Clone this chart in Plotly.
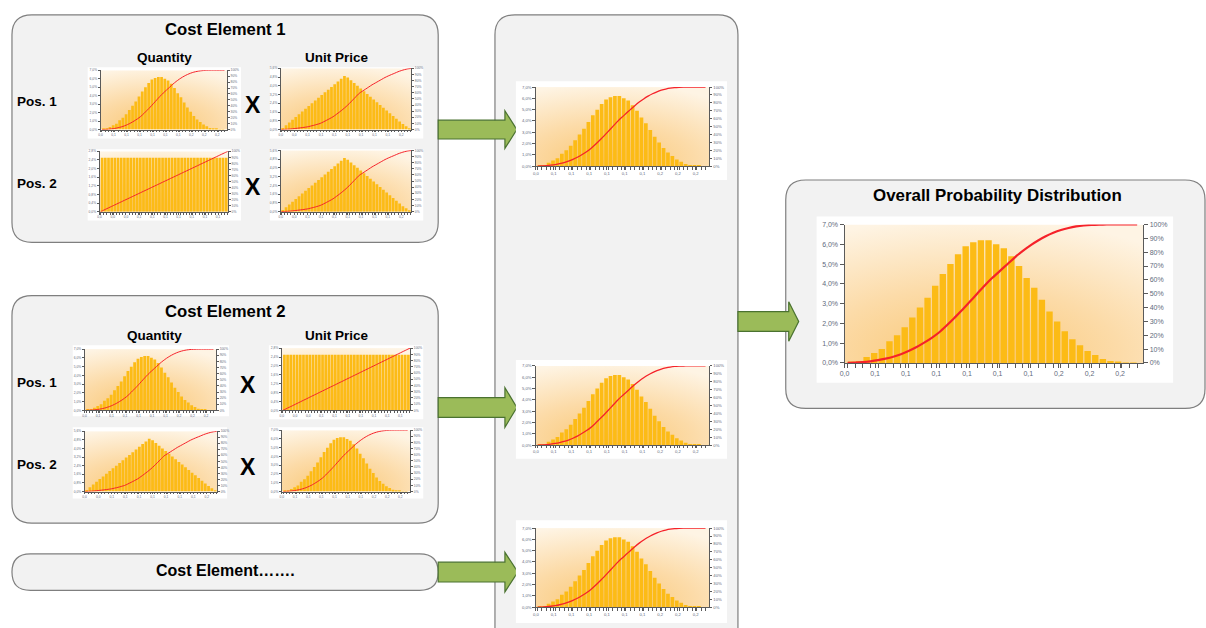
import base64
import plotly.graph_objects as go

W, H = 1206, 628
FONT = "Liberation Sans, Arial, sans-serif"

# ---------------- data ----------------
# bell-shaped distribution (share of outcomes per bin, %)
normal_pct = [0.05, 0.1, 0.3, 0.5, 0.7, 1.1, 1.4, 1.8, 2.3, 2.8, 3.3, 3.9, 4.5, 5.0, 5.5, 5.9,
              6.1, 6.2, 6.2, 6.0, 5.8, 5.4, 4.9, 4.3, 3.8, 3.2, 2.6, 2.1, 1.6, 1.2, 0.9, 0.6,
              0.4, 0.2, 0.1, 0.05, 0.02, 0.01]
# cumulative curve read at the bin edges (%)
normal_cdf = [0, 0.2, 0.6, 1.2, 2.0, 3.1, 4.5, 6.3, 8.6, 11.3, 14.5, 18, 22, 27, 32.5, 38,
              44, 50, 56, 61.5, 66.5, 71.5, 76.5, 81, 85, 88.5, 91.5, 94, 96, 97.5, 98.6,
              99.3, 99.7, 99.9, 100, 100, 100, 100, 100]

# triangular distribution
tri_pct = [0.15, 0.4, 0.65, 0.9, 1.15, 1.4, 1.65, 1.9, 2.15, 2.4, 2.65, 2.9, 3.15, 3.4, 3.65,
           3.9, 4.15, 4.4, 4.65, 4.9, 4.75, 4.5, 4.25, 4.0, 3.75, 3.5, 3.25, 3.0, 2.75, 2.5,
           2.25, 2.0, 1.75, 1.5, 1.25, 1.0, 0.75, 0.5, 0.3, 0.1]
tri_cdf = [0, 0.3, 0.6, 1.0, 1.6, 2.2, 2.9, 3.6, 4.4, 5.6, 6.9, 8.4, 10, 12.5, 15.2, 18, 21,
           24.8, 28.8, 33, 37.5, 42.5, 48, 53.5, 59, 62.5, 66, 69.5, 73, 76, 79, 82, 85, 87.5,
           89.8, 92, 94.3, 96.2, 97.8, 99, 99.7]

# uniform distribution
uni_pct = [2.5, 2.5, 2.5, 2.5, 2.5, 2.5, 2.5, 2.5, 2.5, 2.5, 2.5, 2.5, 2.5, 2.5, 2.5, 2.5,
           2.5, 2.5, 2.5, 2.5, 2.5, 2.5, 2.5, 2.5, 2.5, 2.5, 2.5, 2.5, 2.5, 2.5, 2.5, 2.5,
           2.5, 2.5, 2.5, 2.5, 2.5, 2.5, 2.5, 2.5]
uni_cdf = [0, 2.5, 5, 7.5, 10, 12.5, 15, 17.5, 20, 22.5, 25, 27.5, 30, 32.5, 35, 37.5, 40,
           42.5, 45, 47.5, 50, 52.5, 55, 57.5, 60, 62.5, 65, 67.5, 70, 72.5, 75, 77.5, 80,
           82.5, 85, 87.5, 90, 92.5, 95, 97.5, 100]

normal_yvals = [0, 1, 2, 3, 4, 5, 6, 7]
normal_ylabels = ["0,0%", "1,0%", "2,0%", "3,0%", "4,0%", "5,0%", "6,0%", "7,0%"]
tri_yvals = [0, 0.8, 1.6, 2.4, 3.2, 4.0, 4.8, 5.6]
tri_ylabels = ["0,0%", "0,8%", "1,6%", "2,4%", "3,2%", "4,0%", "4,8%", "5,6%"]
uni_yvals = [0, 0.4, 0.8, 1.2, 1.6, 2.0, 2.4, 2.8]
uni_ylabels = ["0,0%", "0,4%", "0,8%", "1,2%", "1,6%", "2,0%", "2,4%", "2,8%"]
cum_vals = [0, 10, 20, 30, 40, 50, 60, 70, 80, 90, 100]
cum_labels = ["0%", "10%", "20%", "30%", "40%", "50%", "60%", "70%", "80%", "90%", "100%"]
normal_xlabels = ["0,0", "0,1", "0,1", "0,1", "0,1", "0,1", "0,1", "0,2", "0,2", "0,2"]
tri_xlabels = ["0,0", "0,0", "0,1", "0,1", "0,1", "0,1", "0,1", "0,1", "0,1", "0,2"]
uni_xlabels = ["0,0", "0,0", "0,0", "0,1", "0,1", "0,1", "0,1", "0,1", "0,1", "0,1"]

KINDS = {
    "normal": dict(pct=normal_pct, cdf=normal_cdf, yv=normal_yvals, yl=normal_ylabels,
                   xl=normal_xlabels, xr=(-0.9, 38.3)),
    "tri": dict(pct=tri_pct, cdf=tri_cdf, yv=tri_yvals, yl=tri_ylabels,
                xl=tri_xlabels, xr=(-0.6, 39.6)),
    "uni": dict(pct=uni_pct, cdf=uni_cdf, yv=uni_yvals, yl=uni_ylabels,
                xl=uni_xlabels, xr=(-0.8, 39.6)),
}

SCALES = {
    "b": dict(font=7, ticklen=4, lw=2.2, alw=1),
    "m": dict(font=4.2, ticklen=2.5, lw=1.3, alw=0.8),
    "s": dict(font=3.3, ticklen=2, lw=1.0, alw=0.7),
}

# (kind, white frame px, plot area px, scale)
charts = [
    ("normal", (83, 64, 237, 136), (96, 67, 223, 127), "s"),
    ("tri", (266, 64, 420, 136), (277, 65, 408, 127), "s"),
    ("uni", (83, 147, 237, 219), (95, 149, 224, 210), "s"),
    ("tri", (266, 147, 420, 219), (277, 148, 408, 210), "s"),
    ("normal", (68, 345, 225, 417), (80, 349, 212, 411), "s"),
    ("uni", (265, 345, 420, 420), (278, 348, 407, 411), "s"),
    ("tri", (68, 428, 223, 500), (80, 432, 213, 493), "s"),
    ("normal", (265, 428, 420, 500), (278, 431, 407, 493), "s"),
    ("normal", (513, 78, 725, 178), (533, 84, 707, 164), "m"),
    ("normal", (513, 360, 725, 460), (533, 366, 707, 446), "m"),
    ("normal", (513, 522, 725, 626), (533, 530, 707, 610), "m"),
    ("normal", (815, 215, 1173, 383), (843, 223, 1143, 363), "b"),
]


def px(x):
    return x / W


def py(y):
    return 1 - y / H


def rrect(x0, y0, x1, y1, r):
    pts = [("M", x0 + r, y0), ("L", x1 - r, y0), ("Q", x1, y0, x1, y0 + r), ("L", x1, y1 - r),
           ("Q", x1, y1, x1 - r, y1), ("L", x0 + r, y1), ("Q", x0, y1, x0, y1 - r),
           ("L", x0, y0 + r), ("Q", x0, y0, x0 + r, y0)]
    s = ""
    for p in pts:
        cmd = p[0]
        coords = p[1:]
        parts = []
        for i in range(0, len(coords), 2):
            parts.append(f"{px(coords[i]):.5f},{py(coords[i + 1]):.5f}")
        s += cmd + " " + " ".join(parts) + " "
    return s + "Z"


def arrow(x0, xh, tip, yc, b, h):
    pts = [(x0, yc - b), (xh, yc - b), (xh, yc - h), (tip, yc), (xh, yc + h), (xh, yc + b), (x0, yc + b)]
    s = "M " + " L ".join(f"{px(x):.5f},{py(y):.5f}" for x, y in pts) + " Z"
    return s


grad_svg = (
    '<svg xmlns="http://www.w3.org/2000/svg" width="200" height="100" viewBox="0 0 200 100" '
    'preserveAspectRatio="none"><defs><radialGradient id="g" cx="0.42" cy="0.95" r="1.0">'
    '<stop offset="0" stop-color="#f9c672"/><stop offset="0.5" stop-color="#fcdba8"/>'
    '<stop offset="1" stop-color="#fef4e4"/></radialGradient></defs>'
    '<rect width="200" height="100" fill="url(#g)"/></svg>'
)
grad_uri = "data:image/svg+xml;base64," + base64.b64encode(grad_svg.encode()).decode()

fig = go.Figure()
shapes = []
images = []
annotations = []
layout_axes = {}

BOX_FILL = "#f2f2f2"
BOX_LINE = "#7f7f7f"

# background boxes
for (x0, y0, x1, y1, r) in [(7, 11, 435, 241, 20), (7, 295, 435, 525, 20), (7, 556, 435, 593, 18.5),
                            (492, 11, 736, 660, 20), (784, 178, 1205, 409, 20)]:
    shapes.append(dict(type="path", xref="paper", yref="paper", path=rrect(x0, y0, x1, y1, r),
                       fillcolor=BOX_FILL, line=dict(color=BOX_LINE, width=1.2), layer="below"))

# arrows
for (x0, xh, tip, yc, b, h) in [(435, 502, 514, 127, 9.5, 19), (435, 502, 514, 408, 10, 20),
                                (435, 502, 515, 574.5, 10, 20), (736, 787, 797, 321, 10, 20)]:
    shapes.append(dict(type="path", xref="paper", yref="paper", path=arrow(x0, xh, tip, yc, b, h),
                       fillcolor="#9bbb59", line=dict(color="#4a7230", width=1.2), layer="below"))

for k, (kind, frame, plot, sc) in enumerate(charts):
    cfg = KINDS[kind]
    s = SCALES[sc]
    # white frame
    shapes.append(dict(type="rect", xref="paper", yref="paper", x0=px(frame[0]), x1=px(frame[2]),
                       y0=py(frame[3]), y1=py(frame[1]), fillcolor="white", line=dict(width=0),
                       layer="below"))
    xi = k + 1
    yl = 2 * k + 1
    yr = 2 * k + 2
    xname = "xaxis" if xi == 1 else f"xaxis{xi}"
    ylname = "yaxis" if yl == 1 else f"yaxis{yl}"
    yrname = f"yaxis{yr}"
    xid = "x" if xi == 1 else f"x{xi}"
    ylid = "y" if yl == 1 else f"y{yl}"
    yrid = f"y{yr}"
    dom_x = [px(plot[0]), px(plot[2])]
    dom_y = [py(plot[3]), py(plot[1])]
    n = len(cfg["pct"])
    bins = list(range(n))
    edges = [i - 0.5 for i in range(n + 1)]
    xr0, xr1 = cfg["xr"]
    span = xr1 - xr0
    xt = [xr0 + j * 0.1025 * span for j in range(len(cfg["xl"]))]
    tickfont = dict(family=FONT, size=s["font"], color="#5f6a7c")

    fig.add_trace(go.Bar(x=bins, y=cfg["pct"], xaxis=xid, yaxis=ylid,
                         marker=dict(color="#fcbb16", line=dict(width=0)), showlegend=False,
                         hoverinfo="skip"))
    fig.add_trace(go.Scatter(x=edges, y=cfg["cdf"], xaxis=xid, yaxis=yrid, mode="lines",
                             line=dict(color="#f5222a", width=s["lw"], shape="spline", smoothing=0.6),
                             showlegend=False, hoverinfo="skip"))

    axcommon = dict(showgrid=False, zeroline=False, showline=True, linecolor="#5a5a5a",
                    linewidth=s["alw"], ticks="outside", ticklen=s["ticklen"], tickwidth=s["alw"],
                    tickcolor="#5a5a5a", tickfont=tickfont, fixedrange=True)
    layout_axes[xname] = dict(axcommon, domain=dom_x, anchor=ylid, range=[xr0, xr1],
                              tickmode="array", tickvals=xt, ticktext=cfg["xl"],
                              minor=dict(ticks="outside", tickmode="linear", tick0=-0.5, dtick=1,
                                         ticklen=s["ticklen"], tickcolor="#5a5a5a",
                                         tickwidth=s["alw"]))
    layout_axes[ylname] = dict(axcommon, domain=dom_y, anchor=xid, range=[0, cfg["yv"][-1]],
                               tickmode="array", tickvals=cfg["yv"], ticktext=cfg["yl"])
    layout_axes[yrname] = dict(axcommon, domain=dom_y, anchor=xid, overlaying=ylid, side="right",
                               range=[0, 100], tickmode="array", tickvals=cum_vals,
                               ticktext=cum_labels)
    images.append(dict(source=grad_uri, xref=f"{xid} domain", yref=f"{ylid} domain", x=0, y=1,
                       sizex=1, sizey=1, xanchor="left", yanchor="top", sizing="stretch",
                       layer="below"))


def text(t, x, y, size, anchor="center"):
    annotations.append(dict(text=f"<b>{t}</b>", x=px(x), y=py(y), xref="paper", yref="paper",
                            showarrow=False, xanchor=anchor, yanchor="middle",
                            font=dict(family=FONT, size=size, color="#000000")))


text("Cost Element 1", 221, 26, 16.7)
text("Quantity", 160, 54, 13.5)
text("Unit Price", 333, 54, 13.5)
text("Pos. 1", 10, 99, 13.5, "left")
text("Pos. 2", 10, 182, 13.5, "left")
text("X", 249, 102, 23)
text("X", 249, 185, 23)

text("Cost Element 2", 221, 311, 16.7)
text("Quantity", 150, 335, 13.5)
text("Unit Price", 333, 335, 13.5)
text("Pos. 1", 10, 383, 13.5, "left")
text("Pos. 2", 10, 466, 13.5, "left")
text("X", 244, 385, 23)
text("X", 244, 468, 23)

text("Cost Element…….", 221, 573, 16)
text("Overall Probability Distribution", 997, 194, 16.9)

fig.update_layout(width=W, height=H, margin=dict(l=0, r=0, t=0, b=0), paper_bgcolor="white",
                  plot_bgcolor="rgba(0,0,0,0)", bargap=0.16, shapes=shapes, images=images,
                  annotations=annotations, showlegend=False, **layout_axes)

fig.write_html("out.html", config={"displayModeBar": False})
